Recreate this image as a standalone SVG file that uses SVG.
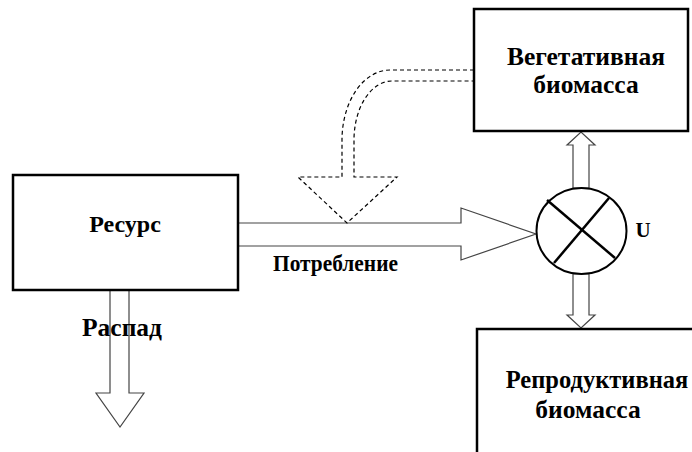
<svg xmlns="http://www.w3.org/2000/svg" width="692" height="452" viewBox="0 0 692 452">
<style>
.box{fill:#fff;stroke:#000;stroke-width:2.5}
.arr{fill:#fff;stroke:#444;stroke-width:1.2;stroke-linejoin:miter}
.dash{fill:none;stroke:#000;stroke-width:1.2;stroke-dasharray:4 3}
.t{font-family:"Liberation Serif","Times New Roman",serif;font-weight:bold;font-size:24px;fill:#000;text-anchor:middle}
.big{font-size:25.5px}
</style>
<rect width="692" height="452" fill="#fff"/>
<g id="connectors">
  <polygon class="arr" points="238,223 461,223 461,208 536,234 461,260 461,246 238,246"/>
  <polygon class="arr" points="110,290 129,290 129,393 144,393 120,427 96,393 110,393"/>
  <polygon class="arr" points="573,188 573,145 567,145 581,132 595,145 589,145 589,188"/>
  <polygon class="arr" points="573,274 573,315 567,315 581,328 595,315 589,315 589,274"/>
  <g id="dashed-arrow">
    <path class="dash" d="M474,70 H390 A48,70 0 0 0 342,140 V177 H298 L347,223 L397,177 H354 V140 A38,59 0 0 1 392,81 H474"/>
  </g>
</g>
<g id="resource">
  <rect class="box" x="13" y="175" width="225" height="115"/>
  <text class="t" x="125" y="232">Ресурс</text>
</g>
<g id="vegetative">
  <rect class="box" x="474" y="9" width="214" height="122"/>
  <text class="t big" x="586" y="65">Вегетативная</text>
  <text class="t big" x="586" y="93">биомасса</text>
</g>
<g id="reproductive">
  <rect class="box" x="477" y="329" width="230" height="140"/>
  <text class="t" x="597" y="388" style="font-size:24.5px">Репродуктивная</text>
  <text class="t big" x="588" y="418">биомасса</text>
</g>
<g id="multiplier">
  <ellipse cx="581.5" cy="231" rx="45" ry="43" fill="#fff" stroke="#000" stroke-width="2"/>
  <line x1="547" y1="200" x2="615" y2="258" stroke="#000" stroke-width="2.5"/>
  <line x1="609" y1="198" x2="554" y2="263" stroke="#000" stroke-width="2.5"/>
  <text class="t" x="643" y="237" style="font-size:21px">U</text>
</g>
<g id="labels">
  <text class="t" x="335.5" y="271" style="font-size:23px" textLength="125" lengthAdjust="spacingAndGlyphs">Потребление</text>
  <text class="t big" x="122" y="336">Распад</text>
</g>
</svg>
